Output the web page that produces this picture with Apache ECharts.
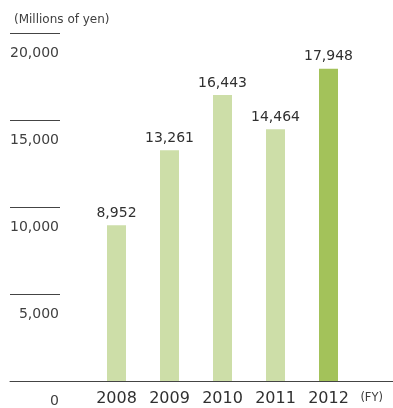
<!DOCTYPE html>
<html>
<head>
<meta charset="utf-8">
<script src="https://cdn.jsdelivr.net/npm/echarts@6/dist/echarts.min.js"></script>
<style>
  html, body { margin: 0; padding: 0; background: #fff; }
  #chart { width: 393px; height: 408px; }
</style>
</head>
<body>
<div id="chart"></div>
<script>
// Fiscal years and values (millions of yen)
const years = ['2008', '2009', '2010', '2011', '2012'];
const values = [8952, 13261, 16443, 14464, 17948];
const yTicks = [0, 5000, 10000, 15000, 20000];

const FONT = '"DejaVu Sans", Verdana, sans-serif';
const LIGHT = '#cddea8';
const DARK = '#a3c25a';
const TEXT = '#404040';

const chart = echarts.init(document.getElementById('chart'), null, { renderer: 'canvas' });

const fmt = v => v.toLocaleString('en-US');

chart.setOption({
  animation: false,
  textStyle: { fontFamily: FONT },
  title: {
    text: '(Millions of yen)',
    left: 9,
    top: 9,
    textStyle: { fontFamily: FONT, fontSize: 12, fontWeight: 'normal', color: TEXT }
  },
  graphic: [{
    type: 'text',
    right: 10,
    top: 392,
    style: { text: '(FY)', font: '11.5px ' + FONT, fill: TEXT }
  }],
  grid: [
    // bars
    { left: 90, right: 38, top: 33, bottom: 27 },
    // full-width frame: baseline and value scale
    { left: 10, right: 0, top: 33, bottom: 27 }
  ],
  xAxis: [
    {
      type: 'category',
      gridIndex: 0,
      data: years,
      axisLine: { show: false },
      axisTick: { show: false },
      axisLabel: { fontFamily: FONT, fontSize: 16, color: '#303030', margin: 10 }
    },
    {
      type: 'value',
      gridIndex: 1,
      min: 0,
      max: 1,
      axisLine: { show: true, lineStyle: { color: '#444', width: 1 } },
      axisTick: { show: false },
      axisLabel: { show: false },
      splitLine: { show: false }
    }
  ],
  yAxis: [
    {
      type: 'value',
      gridIndex: 0,
      min: 0,
      max: 20000,
      interval: 5000,
      show: false
    },
    {
      type: 'value',
      gridIndex: 1,
      min: yTicks[0],
      max: yTicks[yTicks.length - 1],
      interval: 5000,
      axisLine: { show: false },
      axisTick: { show: true, inside: true, length: 50, lineStyle: { color: '#444', width: 1 } },
      splitLine: { show: false },
      axisLabel: {
        inside: true,
        margin: 49,
        align: 'right',
        verticalAlign: 'top',
        padding: [13, 0, 0, 0],
        fontFamily: FONT,
        fontSize: 14,
        color: TEXT,
        formatter: v => fmt(v)
      }
    }
  ],
  series: [{
    type: 'bar',
    xAxisIndex: 0,
    yAxisIndex: 0,
    barWidth: 19,
    data: values.map((v, i) => ({
      value: v,
      itemStyle: { color: i === values.length - 1 ? DARK : LIGHT }
    })),
    label: {
      show: true,
      position: 'top',
      distance: 5,
      fontFamily: FONT,
      fontSize: 14,
      color: '#303030',
      formatter: p => fmt(p.value)
    }
  }]
});
</script>
</body>
</html>
